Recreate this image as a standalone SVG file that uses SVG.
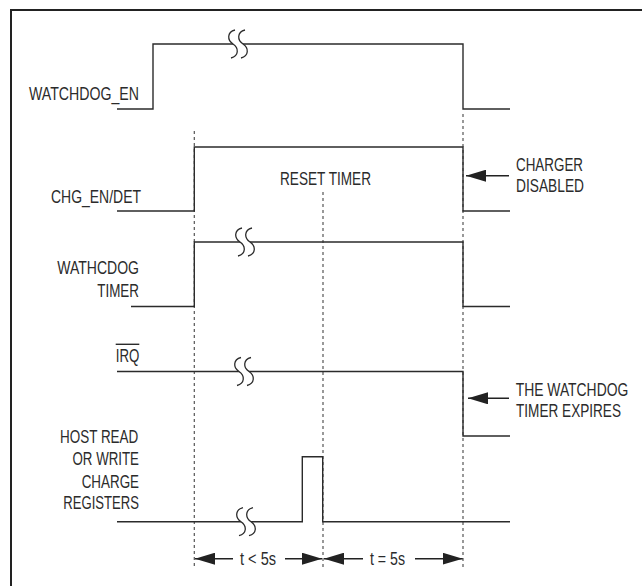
<svg xmlns="http://www.w3.org/2000/svg" width="642" height="586" viewBox="0 0 642 586">
<style>
.sig{fill:none;stroke:#2b2b2b;stroke-width:1.4;stroke-linejoin:miter}
.dash{fill:none;stroke:#555;stroke-width:1.2;stroke-dasharray:3,3}
.frame{fill:none;stroke:#222;stroke-width:2}
.brk{fill:none;stroke:#2b2b2b;stroke-width:1.3}
.brkfill{fill:#fff;stroke:none}
.arr{fill:none;stroke:#222;stroke-width:1.4}
text{font-family:"Liberation Sans",Arial,sans-serif;font-size:18px;fill:#2b2b2b}
</style>
<defs>
<marker id="ah" markerWidth="20" markerHeight="12" refX="20" refY="6" orient="auto" markerUnits="userSpaceOnUse">
<path d="M0,0 L20,6 L0,12 Z" fill="#222"/>
</marker>
<g id="brkshape">
<path class="brkfill" d="M2,-14 C-6,-12 -6,-4 0,0 C6,4 6,12 -2,14 L8,14 C16,12 16,4 10,0 C4,-4 4,-12 12,-14 Z"/>
<path class="brk" d="M2,-14 C-6,-12 -6,-4 0,0 C6,4 6,12 -2,14"/>
<path class="brk" d="M12,-14 C4,-12 4,-4 10,0 C16,4 16,12 8,14"/>
</g>
</defs>
<rect width="642" height="586" fill="#fff"/>
<g id="frame">
<path class="frame" d="M11,586 L11,10 L642,10"/>
</g>
<g id="connectors">
<path class="dash" d="M194.3,131 L194.3,569"/>
<path class="dash" d="M323,192 L323,569"/>
<path class="dash" d="M463,114 L463,569"/>
<path class="arr" d="M509,175.7 L466,175.7" marker-end="url(#ah)"/>
<path class="arr" d="M509,398.3 L468,398.3" marker-end="url(#ah)"/>
<path class="arr" d="M233,558.7 L195,558.7" marker-end="url(#ah)"/>
<path class="arr" d="M285,558.7 L322,558.7" marker-end="url(#ah)"/>
<path class="arr" d="M363,558.7 L324,558.7" marker-end="url(#ah)"/>
<path class="arr" d="M415,558.7 L462.7,558.7" marker-end="url(#ah)"/>
</g>
<g id="watchdog_en">
<path class="sig" d="M117,109 L153,109 L153,44 L463,44 L463,109 L510,109"/>
<use href="#brkshape" x="233" y="44"/>
<text x="29" y="100" textLength="110" lengthAdjust="spacingAndGlyphs">WATCHDOG_EN</text>
</g>
<g id="chg_en_det">
<path class="sig" d="M117,211 L194.3,211 L194.3,147 L463,147 L463,211 L510,211"/>
<text x="51" y="203" textLength="90" lengthAdjust="spacingAndGlyphs">CHG_EN/DET</text>
<text x="280" y="185" textLength="91" lengthAdjust="spacingAndGlyphs">RESET TIMER</text>
</g>
<g id="charger_disabled">
<text x="516" y="171" textLength="67" lengthAdjust="spacingAndGlyphs">CHARGER</text>
<text x="516" y="192.3" textLength="68" lengthAdjust="spacingAndGlyphs">DISABLED</text>
</g>
<g id="watchdog_timer">
<path class="sig" d="M131,306.5 L194.3,306.5 L194.3,242 L463,242 L463,306.5 L510,306.5"/>
<use href="#brkshape" x="240" y="242"/>
<text x="57.3" y="274.3" textLength="81.7" lengthAdjust="spacingAndGlyphs">WATHCDOG</text>
<text x="97.3" y="296.7" textLength="41.7" lengthAdjust="spacingAndGlyphs">TIMER</text>
</g>
<g id="irq">
<path class="sig" d="M117,371.5 L463,371.5 L463,436 L510,436"/>
<use href="#brkshape" x="239" y="371.5"/>
<text x="115.7" y="361.7" textLength="23.6" lengthAdjust="spacingAndGlyphs">IRQ</text>
<path class="sig" d="M115.7,344.3 L139.3,344.3" stroke-width="1.2"/>
</g>
<g id="watchdog_expires">
<text transform="translate(515.7,395.7) scale(0.84,1)" x="0" y="0" textLength="134" lengthAdjust="spacingAndGlyphs">THE WATCHDOG</text>
<text transform="translate(516,417.3) scale(0.84,1)" x="0" y="0" textLength="125" lengthAdjust="spacingAndGlyphs">TIMER EXPIRES</text>
</g>
<g id="host_rw">
<path class="sig" d="M117,521.7 L302.3,521.7 L302.3,456.7 L322.7,456.7 L322.7,521.7 L510,521.7"/>
<use href="#brkshape" x="241" y="521.7"/>
<text x="60" y="442.7" textLength="78.3" lengthAdjust="spacingAndGlyphs">HOST READ</text>
<text x="72.5" y="464.5" textLength="66.5" lengthAdjust="spacingAndGlyphs">OR WRITE</text>
<text x="81.7" y="487.7" textLength="57.3" lengthAdjust="spacingAndGlyphs">CHARGE</text>
<text x="63.3" y="509.3" textLength="75.7" lengthAdjust="spacingAndGlyphs">REGISTERS</text>
</g>
<g id="timing_labels">
<text x="240" y="565" textLength="36" lengthAdjust="spacingAndGlyphs">t &lt; 5s</text>
<text x="370" y="565" textLength="35" lengthAdjust="spacingAndGlyphs">t = 5s</text>
</g>
</svg>
